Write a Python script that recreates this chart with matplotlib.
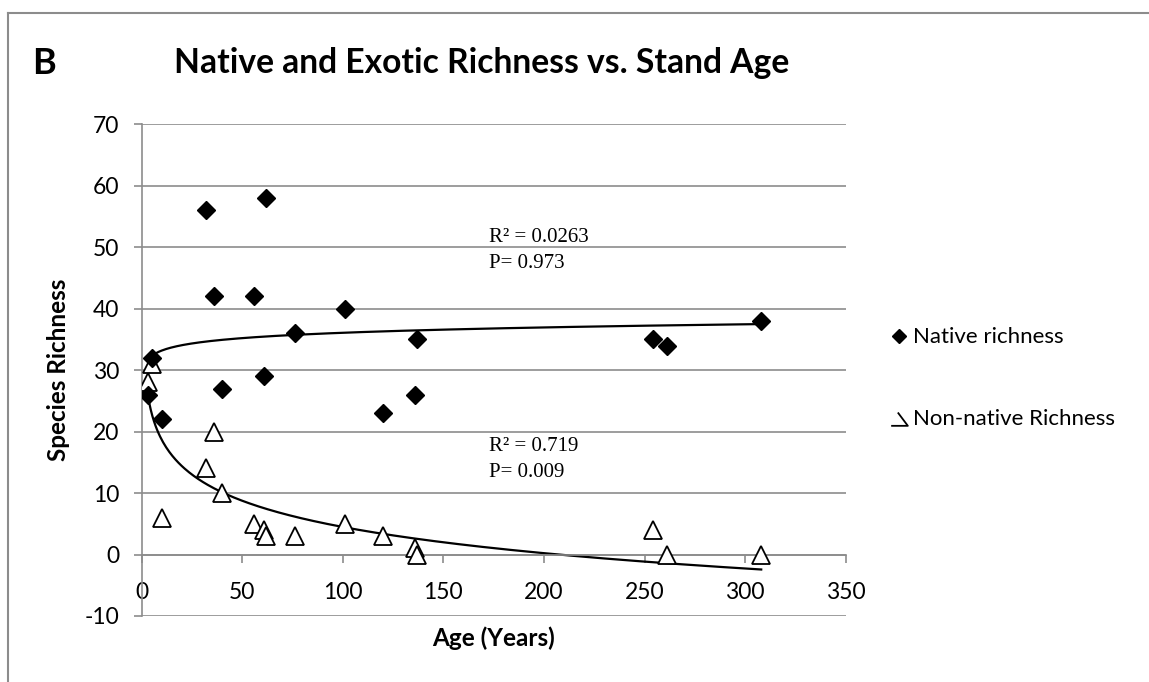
import numpy as np
import matplotlib
matplotlib.use("Agg")
import matplotlib.pyplot as plt
from matplotlib.lines import Line2D
from matplotlib.path import Path

plt.rcParams["axes.unicode_minus"] = False

# stand ages (years) and richness values
age = [3, 5, 10, 32, 36, 40, 56, 61, 62, 76, 101, 120, 136, 137, 254, 261, 308]
native_richness = [26, 32, 22, 56, 42, 27, 42, 29, 58, 36, 40, 23, 26, 35, 35, 34, 38]
nonnative_richness = [28, 31, 6, 14, 20, 10, 5, 4, 3, 3, 5, 3, 1, 0, 4, 0, 0]

x_ticks = [0, 50, 100, 150, 200, 250, 300, 350]
y_ticks = [-10, 0, 10, 20, 30, 40, 50, 60, 70]

native_stats = ["R\u00b2 = 0.0263", "P= 0.973"]
nonnative_stats = ["R\u00b2 = 0.719", "P= 0.009"]

W, H = 1149, 682
grey = "#8c8c8c"

fig = plt.figure(figsize=(W / 100, H / 100), dpi=100)
ax = fig.add_axes([141.7 / W, 1 - 616 / H, 704 / W, (616 - 124.3) / H])

ax.set_xlim(0, 350)
ax.set_ylim(-10, 70)

# gridlines
for yv in y_ticks:
    ax.axhline(yv, color=grey, lw=1.2, zorder=0)

# logarithmic trendlines (same as Excel log trendline)
x = np.array(age, dtype=float)
xs = np.linspace(x.min(), x.max(), 400)
for yvals in (native_richness, nonnative_richness):
    a, b = np.polyfit(np.log(x), np.array(yvals, dtype=float), 1)
    ax.plot(xs, a * np.log(xs) + b, color="black", lw=1.6, zorder=2)

ax.plot(age, nonnative_richness, ls="none", marker="^", ms=13, mfc="white",
        mec="black", mew=1.3, zorder=3)
ax.plot(age, native_richness, ls="none", marker="D", ms=9, mfc="black",
        mec="black", zorder=4)

# axes styling
for s in ["top", "right"]:
    ax.spines[s].set_visible(False)
ax.spines["bottom"].set_position(("data", 0))
ax.spines["bottom"].set_color(grey)
ax.spines["left"].set_color(grey)
ax.spines["bottom"].set_linewidth(1.2)
ax.spines["left"].set_linewidth(1.2)
ax.set_xticks(x_ticks)
ax.set_yticks(y_ticks)
ax.tick_params(axis="both", direction="out", length=6, width=1.2, color=grey,
               labelsize=16.5)
ax.tick_params(axis="x", pad=13.5)
ax.tick_params(axis="y", pad=10)
for lab in ax.get_xticklabels() + ax.get_yticklabels():
    lab.set_fontfamily("Lato")

ax.set_xlabel("Age (Years)", fontsize=17.5, fontweight="bold", family="Lato")
ax.xaxis.set_label_coords(0.5, -0.045)
ax.xaxis.label.set_va("center")
ax.set_ylabel("Species Richness", fontsize=17.5, fontweight="bold", family="Lato")
ax.yaxis.set_label_coords(-0.118, 0.5)
ax.yaxis.label.set_va("center")

# trendline statistics
ax.text(172.5, 51.6, native_stats[0], fontsize=15, family="Liberation Serif", va="center")
ax.text(172.5, 47.3, native_stats[1], fontsize=15, family="Liberation Serif", va="center")
ax.text(172.5, 17.5, nonnative_stats[0], fontsize=15, family="Liberation Serif", va="center")
ax.text(172.5, 13.3, nonnative_stats[1], fontsize=15, family="Liberation Serif", va="center")

# legend
clipped_tri = Path([(-0.1, 0.3), (0.5, -0.5), (-0.5, -0.5)],
                   [Path.MOVETO, Path.LINETO, Path.LINETO])
handles = [
    Line2D([], [], ls="none", marker="D", ms=7, mfc="black", mec="black"),
    Line2D([], [], ls="none", marker=clipped_tri, ms=12, mfc="none", mec="black", mew=1.3),
]
leg = ax.legend(handles, ["Native richness", "Non-native Richness"],
                loc="center left", bbox_to_anchor=(871 / W, 1 - 378 / H),
                bbox_transform=fig.transFigure, frameon=False,
                labelspacing=2.75, handlelength=0.7, handletextpad=0.3,
                prop={"family": "Lato", "size": 16})

# titles
fig.text(482 / W, 1 - 63 / H, "Native and Exotic Richness vs. Stand Age",
         ha="center", va="center", fontsize=24.2, fontweight="bold", family="Lato")
fig.text(44 / W, 1 - 63 / H, "B", ha="center", va="center", fontsize=26,
         fontweight="bold", family="Lato")

# chart border (top and left edges visible)
fig.add_artist(Line2D([8 / W, 1], [1 - 12.5 / H, 1 - 12.5 / H], color=grey, lw=1.5))
fig.add_artist(Line2D([8 / W, 8 / W], [0, 1 - 12.5 / H], color=grey, lw=1.5))

plt.savefig("out.png", dpi=100)
